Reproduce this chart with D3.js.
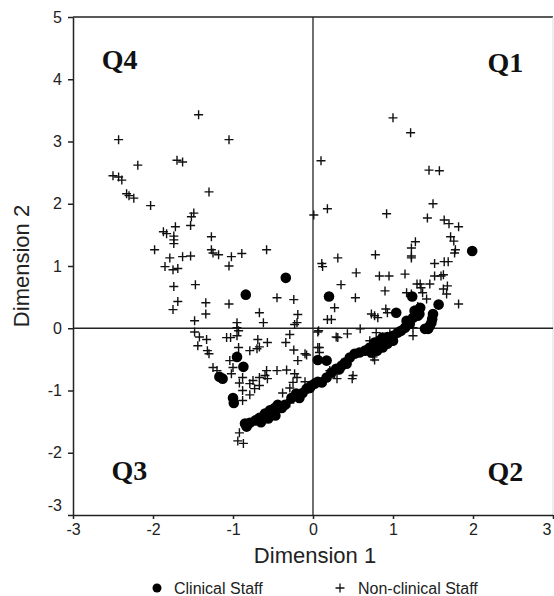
<!DOCTYPE html>
<html lang="en">
<head>
    <meta charset="UTF-8">
    <title>Dimension plot</title>
    <script src="https://cdn.jsdelivr.net/npm/d3@7"></script>
    <style>
        body { margin: 0; background: white; }
        svg { display: block; }
        .tick text { font-family: "Liberation Sans", Arial, sans-serif; font-size: 16px; fill: #222; }
        .axis path, .axis line { stroke: #222; stroke-width: 1.5px; }
        .qlabel { font-family: "Liberation Serif", "Times New Roman", serif; font-weight: bold; font-size: 28px; fill: #111; }
        .title { font-family: "Liberation Sans", Arial, sans-serif; font-size: 22px; fill: #222; }
        .legend { font-family: "Liberation Sans", Arial, sans-serif; font-size: 16px; fill: #222; }
    </style>
</head>
<body>
<svg id="chart" width="554" height="596"></svg>
<script>
    // Dimension 1 / Dimension 2 coordinates
    const clinical = [
        [1.99, 1.24], [-0.34, 0.81], [-0.84, 0.54], [0.20, 0.51], [1.24, 0.51], [1.57, 0.38],
        [-0.95, -0.46], [-0.87, -0.62], [0.06, -0.51], [0.17, -0.52], [-1.17, -0.78], [-1.13, -0.81],
        [-1.00, -1.12], [-0.99, -1.20], [-0.85, -1.53], [-0.83, -1.58], [-0.79, -1.52], [-0.72, -1.48],
        [-0.67, -1.44], [-0.60, -1.37], [-0.54, -1.32], [-0.48, -1.28], [-0.44, -1.23], [-0.39, -1.28],
        [-0.35, -1.23], [-0.65, -1.51], [-0.56, -1.45], [-0.47, -1.40], [-0.27, -1.12], [-0.21, -1.05],
        [-0.17, -1.12], [-0.13, -1.04], [-0.08, -0.97], [-0.04, -0.96], [-0.02, -0.92], [0.02, -0.89],
        [0.06, -0.86], [0.11, -0.87], [0.17, -0.79], [0.23, -0.71], [0.29, -0.65], [0.33, -0.66],
        [0.36, -0.60], [0.40, -0.55], [0.42, -0.57], [0.46, -0.47], [0.52, -0.41], [0.58, -0.39],
        [0.65, -0.36], [0.71, -0.31], [0.73, -0.39], [0.77, -0.23], [0.80, -0.36], [0.83, -0.20],
        [0.87, -0.31], [0.87, -0.15], [0.93, -0.25], [0.93, -0.14], [1.00, -0.20], [1.00, -0.12],
        [1.06, -0.07], [1.10, -0.04], [1.15, 0.01], [1.04, 0.25], [1.17, 0.12], [1.21, 0.07],
        [1.25, 0.17], [1.29, 0.23], [1.27, 0.28], [1.31, 0.20], [1.34, 0.33], [1.33, 0.23],
        [1.50, 0.23], [1.49, 0.15], [1.48, 0.09], [1.46, 0.04], [1.44, -0.01], [1.40, -0.01]
    ];

    const nonClinical = [
        [-1.43, 3.43], [-2.43, 3.03], [-1.05, 3.03], [-1.70, 2.70], [-1.63, 2.67], [-2.19, 2.62],
        [-2.50, 2.45], [-2.43, 2.43], [-2.39, 2.38], [-1.30, 2.19], [-2.33, 2.16], [-2.30, 2.13],
        [-2.24, 2.09], [-2.03, 1.97], [-1.49, 1.85], [-1.52, 1.79], [-1.53, 1.65], [-1.72, 1.63],
        [-1.87, 1.55], [-1.83, 1.52], [-1.74, 1.48], [-1.74, 1.42], [-1.74, 1.36], [-1.27, 1.47],
        [-1.98, 1.26], [-1.27, 1.26], [-0.58, 1.26],
        [1.00, 3.38], [1.22, 3.14], [0.10, 2.69], [1.45, 2.54], [1.58, 2.53], [1.50, 2.00],
        [0.18, 1.92], [0.01, 1.82], [0.92, 1.84], [1.43, 1.77], [1.64, 1.74], [1.70, 1.68],
        [1.82, 1.63], [1.72, 1.47], [1.76, 1.40], [1.28, 1.39], [1.23, 1.29], [1.78, 1.26],
        [-1.79, 1.13], [-1.63, 1.15], [-1.53, 1.16], [-1.25, 1.21], [-1.18, 1.18], [-1.02, 1.15],
        [-0.89, 1.20], [-1.85, 0.99], [-1.75, 0.94], [-1.69, 0.96], [-1.05, 1.00], [0.31, 1.13],
        [0.11, 1.04], [0.12, 0.99], [-1.74, 0.67], [-1.47, 0.70], [0.35, 0.70], [-0.45, 0.49],
        [-0.24, 0.46], [0.27, 0.33], [-1.69, 0.43], [-1.34, 0.41], [-1.05, 0.39], [-1.75, 0.30],
        [-1.34, 0.23], [-0.67, 0.25], [-0.19, 0.22], [-1.48, 0.12], [-0.95, 0.09], [-0.62, 0.09],
        [-0.20, 0.09], [-0.23, 0.06], [0.18, 0.14], [0.23, 0.14], [-0.95, 0.01], [-0.93, -0.04],
        [-1.48, -0.06], [-1.42, -0.14], [-1.33, -0.18], [0.07, -0.04], [-1.08, -0.15], [-1.03, -0.15],
        [-0.95, -0.12], [-0.29, -0.10], [-0.69, -0.18], [-0.57, -0.23], [-0.34, -0.23], [-0.24, -0.35],
        [0.31, -0.15], [-1.44, -0.28], [-1.32, -0.36], [-1.30, -0.41], [-0.93, -0.31], [-0.79, -0.36],
        [-0.70, -0.33], [-0.67, -0.30], [-0.10, -0.41], [-0.19, -0.52], [0.08, -0.31], [-1.04, -0.52],
        [-1.00, -0.63], [-1.02, -0.73], [-1.25, -0.63], [-1.20, -0.68], [-0.58, -0.68], [-0.45, -0.68],
        [-0.33, -0.67], [-0.23, -0.73], [-0.88, -0.79], [-0.75, -0.84], [-0.67, -0.79], [-0.60, -0.76],
        [-0.57, -0.81], [-0.92, -0.88], [-0.79, -0.89], [-0.73, -0.97], [-0.67, -0.92], [-0.20, -0.79],
        [-0.10, -0.86], [-0.25, -0.87], [0.27, -0.73], [0.30, -0.81], [-0.88, -1.00], [-0.79, -1.07],
        [-0.38, -1.04], [-0.29, -0.96], [-0.25, -1.12], [-0.88, -1.16], [-0.33, -1.21], [-0.29, -1.20],
        [-0.92, -1.68], [-0.94, -1.81], [-0.87, -1.85],
        [0.78, 1.18], [1.23, 1.16], [1.23, 1.13], [1.77, 1.21], [1.52, 1.04], [1.64, 1.07],
        [1.69, 1.07], [0.54, 0.89], [0.83, 0.84], [0.95, 0.84], [1.15, 0.87], [1.52, 0.84],
        [1.60, 0.84], [1.63, 0.86], [1.30, 0.71], [1.34, 0.71], [1.46, 0.71], [0.90, 0.60],
        [1.17, 0.57], [1.23, 0.55], [1.35, 0.65], [1.37, 0.57], [1.63, 0.63], [1.68, 0.68],
        [1.67, 0.55], [0.53, 0.49], [1.42, 0.47], [1.82, 0.39], [0.91, 0.31], [0.93, 0.25],
        [1.31, 0.35], [1.33, 0.25], [0.73, 0.23], [0.77, 0.20], [0.81, 0.17], [1.25, 0.01],
        [0.06, -0.06], [0.29, -0.14], [0.43, -0.09], [0.59, -0.01], [0.79, -0.07], [0.96, -0.09],
        [1.25, -0.12], [0.06, -0.31], [0.08, -0.39], [-0.08, -0.43], [0.21, -0.68], [0.25, -0.73],
        [0.50, -0.76], [0.49, -0.81], [0.75, -0.46], [0.77, -0.51], [0.71, -0.20]
    ];

    const xTicks = [-3, -2, -1, 0, 1, 2, 3];
    const yTicks = [-3, -2, -1, 0, 1, 2, 3, 4, 5];
    const quadrants = [
        { name: "Q4", x: -2.64, y: 4.17 },
        { name: "Q1", x: 2.18, y: 4.12 },
        { name: "Q3", x: -2.52, y: -2.43 },
        { name: "Q2", x: 2.18, y: -2.45 }
    ];

    const svg = d3.select("#chart");
    const margins = { left: 73, right: 553, top: 17, bottom: 515 };

    let x = d3.scaleLinear().domain([-3, 3]).range([margins.left, margins.right]);
    let y = d3.scaleLinear().domain([-3, 5]).range([margins.bottom, margins.top]);

    // frame: dark top edge, light right edge
    svg.append("line")
        .attr("x1", margins.left).attr("x2", margins.right)
        .attr("y1", margins.top).attr("y2", margins.top)
        .attr("stroke", "#222").attr("stroke-width", 1.5);
    svg.append("line")
        .attr("x1", margins.right).attr("x2", margins.right)
        .attr("y1", margins.top).attr("y2", margins.bottom)
        .attr("stroke", "#ddd").attr("stroke-width", 1);

    // zero lines
    svg.append("line")
        .attr("x1", x(0)).attr("x2", x(0))
        .attr("y1", margins.top).attr("y2", margins.bottom)
        .attr("stroke", "#222").attr("stroke-width", 1.3);
    svg.append("line")
        .attr("x1", margins.left).attr("x2", margins.right)
        .attr("y1", y(0)).attr("y2", y(0))
        .attr("stroke", "#222").attr("stroke-width", 1.3);

    const fmt = d => String(d);

    let yAxis = svg.append("g")
        .attr("class", "axis")
        .attr("transform", `translate(${margins.left},0)`)
        .call(d3.axisLeft(y).tickValues(yTicks).tickFormat(fmt)
            .tickSize(5).tickSizeOuter(0).tickPadding(6));
    yAxis.selectAll(".tick text")
        .filter(d => d === -3)
        .attr("dy", "-0.3em");

    let xAxis = svg.append("g")
        .attr("class", "axis")
        .attr("transform", `translate(0,${margins.bottom})`)
        .call(d3.axisBottom(x).tickValues(xTicks).tickFormat(fmt)
            .tickSize(4).tickSizeOuter(0).tickPadding(5));
    // last label sits on the window edge; nudge it in
    xAxis.selectAll(".tick text")
        .filter(d => d === 3)
        .attr("text-anchor", "end")
        .attr("dx", -2);

    // axis titles
    svg.append("text")
        .attr("class", "title")
        .attr("x", x(0) + 2).attr("y", 563)
        .attr("text-anchor", "middle")
        .text("Dimension 1");
    svg.append("text")
        .attr("class", "title")
        .attr("transform", `translate(29,${y(1)}) rotate(-90)`)
        .attr("text-anchor", "middle")
        .text("Dimension 2");

    // quadrant labels
    svg.selectAll(".qlabel")
        .data(quadrants)
        .enter()
        .append("text")
        .attr("class", "qlabel")
        .attr("x", d => x(d.x))
        .attr("y", d => y(d.y))
        .text(d => d.name);

    // non-clinical: plus markers
    const plus = "M-4.5,0H4.5M0,-4.5V4.5";
    svg.append("g")
        .selectAll("path")
        .data(nonClinical)
        .enter()
        .append("path")
        .attr("d", plus)
        .attr("transform", d => `translate(${x(d[0])},${y(d[1])})`)
        .attr("stroke", "#111")
        .attr("stroke-width", 1.4)
        .attr("fill", "none");

    // clinical: filled circles
    svg.append("g")
        .selectAll("circle")
        .data(clinical)
        .enter()
        .append("circle")
        .attr("cx", d => x(d[0]))
        .attr("cy", d => y(d[1]))
        .attr("r", 5.3)
        .attr("fill", "#000");

    // legend
    let legend = svg.append("g");
    legend.append("circle")
        .attr("cx", 157).attr("cy", 588).attr("r", 4.5).attr("fill", "#000");
    legend.append("text")
        .attr("class", "legend").attr("x", 174).attr("y", 594)
        .text("Clinical Staff");
    legend.append("path")
        .attr("d", plus)
        .attr("transform", "translate(340,588)")
        .attr("stroke", "#111").attr("stroke-width", 1.3);
    legend.append("text")
        .attr("class", "legend").attr("x", 358).attr("y", 594)
        .text("Non-clinical Staff");
</script>
</body>
</html>
